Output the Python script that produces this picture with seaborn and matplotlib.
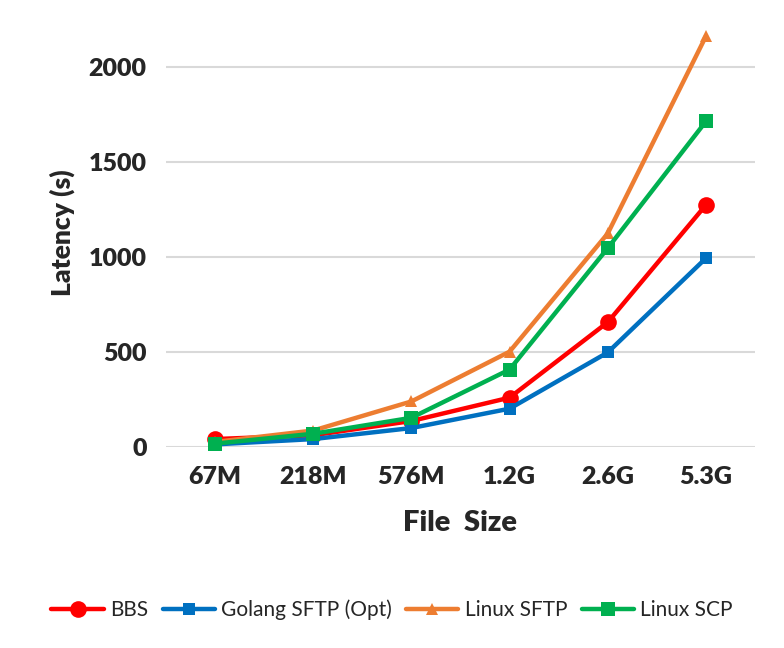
import pandas as pd
import seaborn as sns
import matplotlib.pyplot as plt

# file sizes on the x axis
sizes = ['67M', '218M', '576M', '1.2G', '2.6G', '5.3G']

# latency in seconds
bbs = [40, 60, 135, 258, 655, 1272]
golang_sftp = [12, 40, 98, 200, 496, 992]
linux_sftp = [25, 85, 238, 500, 1122, 2160]
linux_scp = [16, 68, 152, 406, 1045, 1712]

series = ['BBS', 'Golang SFTP (Opt)', 'Linux SFTP', 'Linux SCP']
values = [bbs, golang_sftp, linux_sftp, linux_scp]

rows = []
for name, vals in zip(series, values):
    for s, v in zip(sizes, vals):
        rows.append({'File Size': s, 'Latency': v, 'Tool': name})
df = pd.DataFrame(rows)

sns.set_style('white')
plt.rcParams['font.family'] = ['Lato', 'DejaVu Sans']

colors = {'BBS': '#FF0000', 'Golang SFTP (Opt)': '#0070C0',
          'Linux SFTP': '#ED7D31', 'Linux SCP': '#00B050'}
markers = {'BBS': 'o', 'Golang SFTP (Opt)': 's',
           'Linux SFTP': '^', 'Linux SCP': 's'}
msize = {'BBS': 12, 'Golang SFTP (Opt)': 8.5, 'Linux SFTP': 9, 'Linux SCP': 10}

fig = plt.figure(figsize=(7.84, 6.48), dpi=100)
ax = fig.add_axes([0.2117, 0.3107, 0.7513, 0.6597])

for name in series:
    sub = df[df['Tool'] == name]
    sns.lineplot(data=sub, x='File Size', y='Latency', ax=ax, sort=False,
                 color=colors[name], marker=markers[name], markersize=msize[name],
                 markeredgewidth=0, linewidth=3.2, label=name, clip_on=False)

ax.set_xlim(-0.5, 5.5)
ax.set_ylim(0, 2250)
ax.set_yticks([0, 500, 1000, 1500, 2000])
ax.grid(axis='y', color='#D9D9D9', linewidth=1.5)
ax.set_axisbelow(True)
for sp in ax.spines.values():
    sp.set_visible(False)
ax.tick_params(axis='both', length=0, labelsize=18, pad=14)
for lab in ax.get_xticklabels() + ax.get_yticklabels():
    lab.set_fontweight('heavy')

ax.set_xlabel('File  Size', fontsize=21, fontweight='heavy', labelpad=16)
ax.set_ylabel('Latency (s)', fontsize=19, fontweight='heavy', labelpad=10)

handles, labels = ax.get_legend_handles_labels()
ax.legend_.remove()
fig.legend(handles, labels, loc='center', bbox_to_anchor=(0.5, 0.059), ncol=4,
           frameon=False, fontsize=15, handlelength=2.5, columnspacing=0.7,
           handletextpad=0.3)

fig.savefig('out.png', dpi=100)
